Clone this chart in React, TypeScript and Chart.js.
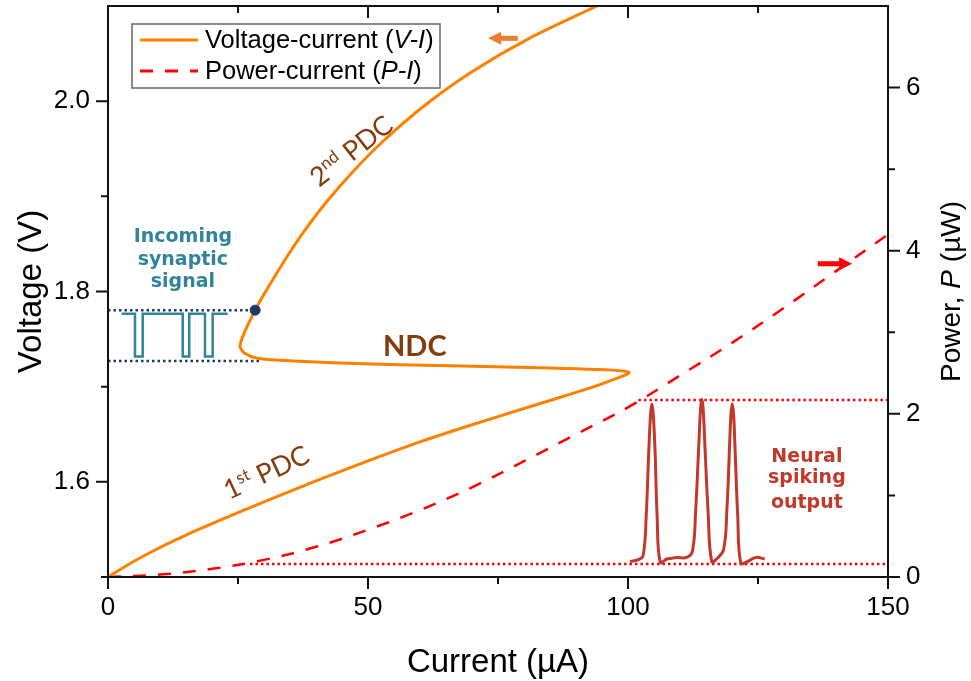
import React, { useEffect, useRef } from 'react';
import { Chart, registerables } from 'chart.js';
Chart.register(...registerables);

// ---------- data ----------
// V-I curve (current in µA, voltage in V), traced along the S-shaped path
const viCurrent = [0, 5, 10, 15, 20, 30, 40, 50, 60, 70, 80, 90, 95, 100.2, 92.7, 83.1, 65.8, 46.0, 33.1, 28.7, 26.3, 25.4, 25.8, 26.9, 28.3, 30, 33.9, 37.5, 42, 47, 53, 61, 70, 81, 94.6];
const viVoltage = [1.5, 1.5165, 1.531, 1.544, 1.556, 1.579, 1.601, 1.622, 1.642, 1.66, 1.677, 1.694, 1.703, 1.715, 1.7183, 1.72, 1.722, 1.7245, 1.7277, 1.7298, 1.735, 1.742, 1.751, 1.765, 1.7804, 1.797, 1.832, 1.8615, 1.894, 1.9254, 1.9584, 1.996, 2.031, 2.066, 2.1016];

// P-I curve (current µA, power µW)
const piCurrent = [0, 10, 20, 30, 40, 50, 60, 70, 80, 90, 100, 110, 120, 130, 140, 150];
const piPower = [0, 0.03, 0.1, 0.21, 0.37, 0.58, 0.82, 1.1, 1.42, 1.75, 2.08, 2.47, 2.87, 3.3, 3.75, 4.2];

// neural spiking output (current µA, power µW)
const spikeCurrent = [100.4, 101.9, 102.9, 103.5, 104.0, 104.35, 104.6, 104.85, 105.2, 105.6, 106.2, 107.5, 109.4, 111.3, 112.4, 113.0, 113.6, 113.95, 114.2, 114.45, 114.8, 115.4, 116.1, 117.2, 118.4, 119.0, 119.5, 119.8, 120.05, 120.3, 120.6, 121.1, 121.7, 123.0, 124.6, 126.3];
const spikePower = [0.19, 0.21, 0.26, 0.75, 1.55, 2.0, 2.12, 2.0, 1.55, 0.75, 0.18, 0.22, 0.24, 0.24, 0.32, 0.8, 1.6, 2.06, 2.18, 2.06, 1.6, 0.8, 0.19, 0.23, 0.34, 0.8, 1.55, 2.0, 2.12, 2.0, 1.55, 0.75, 0.17, 0.19, 0.24, 0.22];

// incoming synaptic signal (square wave)
const synCurrent = [2.63, 5.19, 5.19, 6.67, 6.67, 14.37, 14.37, 15.63, 15.63, 18.65, 18.65, 20.13, 20.13, 23.0];
const synVoltage = [1.7765, 1.7765, 1.7318, 1.7318, 1.7765, 1.7765, 1.7318, 1.7318, 1.7765, 1.7765, 1.7318, 1.7318, 1.7765, 1.7765];

// guide lines
const blueUpperCurrent = [0, 28.3];
const blueUpperVoltage = [1.7804, 1.7804];
const blueLowerCurrent = [0, 29.6];
const blueLowerVoltage = [1.7271, 1.7271];
const redUpperCurrent = [102, 150];
const redUpperPower = [2.17, 2.17];
const redLowerCurrent = [27.3, 150];
const redLowerPower = [0.16, 0.16];
const markerCurrent = [28.3];
const markerVoltage = [1.7804];

// arrows [tail, head]
const orangeArrowCurrent = [78.8, 73.1];
const orangeArrowVoltage = [2.066, 2.066];
const redArrowCurrent = [136.5, 143.1];
const redArrowPower = [3.84, 3.84];

// ticks
const xTicks = [0, 50, 100, 150];
const xTickLabels = ['0', '50', '100', '150'];
const xMinor = [25, 75, 125];
const yTicks = [1.6, 1.8, 2.0];
const yTickLabels = ['1.6', '1.8', '2.0'];
const yMinor = [1.5, 1.7, 1.9];
const y1Ticks = [0, 2, 4, 6];
const y1TickLabels = ['0', '2', '4', '6'];
const y1Minor = [1, 3, 5];

const FONT = "'Liberation Sans', Arial, sans-serif";
const ORANGE = '#FF8000';
const RED = '#FF0000';
const BROWN = '#843C0C';
const TEAL = '#31849B';
const NAVY = '#1F3864';
const SPIKE = '#C0392B';

const pts = (xs: number[], ys: number[]) => xs.map((x, i) => ({ x, y: ys[i] }));

function rich(ctx: CanvasRenderingContext2D, parts: { t: string; font: string; dy?: number }[], cx: number, cy: number, angleDeg: number, color: string) {
  ctx.save();
  ctx.translate(cx, cy);
  ctx.rotate((angleDeg * Math.PI) / 180);
  ctx.fillStyle = color;
  ctx.textBaseline = 'alphabetic';
  ctx.textAlign = 'left';
  let total = 0;
  for (const p of parts) { ctx.font = p.font; total += ctx.measureText(p.t).width; }
  let x = -total / 2;
  for (const p of parts) { ctx.font = p.font; ctx.fillText(p.t, x, p.dy || 0); x += ctx.measureText(p.t).width; }
  ctx.restore();
}

function arrow(ctx: CanvasRenderingContext2D, x0: number, y0: number, x1: number, y1: number, color: string) {
  const ang = Math.atan2(y1 - y0, x1 - x0);
  const headL = 13, headW = 13, shaft = 5;
  ctx.save();
  ctx.translate(x1, y1);
  ctx.rotate(ang);
  const len = Math.hypot(x1 - x0, y1 - y0);
  ctx.fillStyle = color;
  ctx.fillRect(-len, -shaft / 2, len - headL + 1, shaft);
  ctx.beginPath();
  ctx.moveTo(0, 0);
  ctx.lineTo(-headL, -headW / 2);
  ctx.lineTo(-headL, headW / 2);
  ctx.closePath();
  ctx.fill();
  ctx.restore();
}

const annotPlugin = {
  id: 'annot',
  afterDatasetsDraw(chart: any) {
    const ctx: CanvasRenderingContext2D = chart.ctx;
    const x = chart.scales.x, y = chart.scales.y, y1 = chart.scales.y1;
    // arrows
    arrow(ctx, x.getPixelForValue(orangeArrowCurrent[0]), y.getPixelForValue(orangeArrowVoltage[0]), x.getPixelForValue(orangeArrowCurrent[1]), y.getPixelForValue(orangeArrowVoltage[1]), '#ED7D31');
    arrow(ctx, x.getPixelForValue(redArrowCurrent[0]), y1.getPixelForValue(redArrowPower[0]), x.getPixelForValue(redArrowCurrent[1]), y1.getPixelForValue(redArrowPower[1]), RED);

    // annotations
    const lato = (s: number, w = 'normal') => `${w} ${s}px Lato, 'Open Sans', sans-serif`;
    rich(ctx, [{ t: 'NDC', font: lato(29, 'bold') }], x.getPixelForValue(59), y.getPixelForValue(1.7318), 0, BROWN);
    rich(ctx, [{ t: '2', font: lato(27) }, { t: 'nd', font: lato(17), dy: -10 }, { t: ' PDC', font: lato(27) }], x.getPixelForValue(47.9), y.getPixelForValue(1.94), -38, BROWN);
    rich(ctx, [{ t: '1', font: lato(27) }, { t: 'st', font: lato(17), dy: -10 }, { t: ' PDC', font: lato(27) }], x.getPixelForValue(31.2), y.getPixelForValue(1.601), -25, BROWN);
    const dv = "bold 19px 'DejaVu Sans', Verdana, sans-serif";
    rich(ctx, [{ t: 'Incoming', font: dv }], x.getPixelForValue(14.4), y.getPixelForValue(1.852), 0, TEAL);
    rich(ctx, [{ t: 'synaptic', font: dv }], x.getPixelForValue(14.4), y.getPixelForValue(1.828), 0, TEAL);
    rich(ctx, [{ t: 'signal', font: dv }], x.getPixelForValue(14.4), y.getPixelForValue(1.805), 0, TEAL);
    rich(ctx, [{ t: 'Neural', font: dv }], x.getPixelForValue(134.4), y1.getPixelForValue(1.406), 0, SPIKE);
    rich(ctx, [{ t: 'spiking', font: dv }], x.getPixelForValue(134.4), y1.getPixelForValue(1.15), 0, SPIKE);
    rich(ctx, [{ t: 'output', font: dv }], x.getPixelForValue(134.4), y1.getPixelForValue(0.85), 0, SPIKE);
  },
  afterDraw(chart: any) {
    const ctx: CanvasRenderingContext2D = chart.ctx;
    const a = chart.chartArea;
    const x = chart.scales.x, y = chart.scales.y, y1 = chart.scales.y1;
    ctx.save();
    // frame
    ctx.strokeStyle = '#111';
    ctx.lineWidth = 2;
    ctx.strokeRect(a.left, a.top, a.right - a.left, a.bottom - a.top);
    // ticks
    ctx.beginPath();
    const MAJ = 12, MIN = 7;
    for (const v of xTicks) { const px = x.getPixelForValue(v); ctx.moveTo(px, a.bottom); ctx.lineTo(px, a.bottom + MAJ); ctx.moveTo(px, a.top); ctx.lineTo(px, a.top + MAJ); }
    for (const v of xMinor) { const px = x.getPixelForValue(v); ctx.moveTo(px, a.bottom); ctx.lineTo(px, a.bottom + MIN); ctx.moveTo(px, a.top); ctx.lineTo(px, a.top + MIN); }
    for (const v of yTicks) { const py = y.getPixelForValue(v); ctx.moveTo(a.left - MAJ, py); ctx.lineTo(a.left, py); }
    for (const v of yMinor) { const py = y.getPixelForValue(v); ctx.moveTo(a.left - MIN, py); ctx.lineTo(a.left, py); }
    for (const v of y1Ticks) { const py = y1.getPixelForValue(v); ctx.moveTo(a.right, py); ctx.lineTo(a.right + MAJ, py); }
    for (const v of y1Minor) { const py = y1.getPixelForValue(v); ctx.moveTo(a.right, py); ctx.lineTo(a.right + MIN, py); }
    ctx.stroke();

    // axis titles
    const tf = `33px ${FONT}`;
    const rf = `28px ${FONT}`;
    const rfi = `italic 28px ${FONT}`;
    rich(ctx, [{ t: 'Current (µA)', font: tf }], (a.left + a.right) / 2, 672, 0, '#000');
    rich(ctx, [{ t: 'Voltage (V)', font: tf }], 41, (a.top + a.bottom) / 2, -90, '#000');
    rich(ctx, [{ t: 'Power, ', font: rf }, { t: 'P', font: rfi }, { t: ' (µW)', font: rf }], 960, (a.top + a.bottom) / 2, -90, '#000');

    // legend
    const lx = a.left + 24, ly = a.top + 18, lw = 308, lh = 64;
    ctx.fillStyle = '#fff';
    ctx.fillRect(lx, ly, lw, lh);
    ctx.strokeStyle = '#666';
    ctx.lineWidth = 1.5;
    ctx.strokeRect(lx, ly, lw, lh);
    const r1 = ly + 16, r2 = ly + 47;
    ctx.lineWidth = 3;
    ctx.strokeStyle = ORANGE;
    ctx.beginPath(); ctx.moveTo(lx + 8, r1); ctx.lineTo(lx + 66, r1); ctx.stroke();
    ctx.strokeStyle = RED;
    ctx.setLineDash([13, 12]);
    ctx.beginPath(); ctx.moveTo(lx + 8, r2); ctx.lineTo(lx + 66, r2); ctx.stroke();
    ctx.setLineDash([]);
    const lf = `25.5px ${FONT}`, lfi = `italic 25.5px ${FONT}`;
    const leftRich = (parts: { t: string; font: string }[], x0: number, yb: number) => {
      ctx.fillStyle = '#000'; ctx.textBaseline = 'middle'; ctx.textAlign = 'left';
      let xx = x0;
      for (const p of parts) { ctx.font = p.font; ctx.fillText(p.t, xx, yb); xx += ctx.measureText(p.t).width; }
    };
    leftRich([{ t: 'Voltage-current (', font: lf }, { t: 'V-I', font: lfi }, { t: ')', font: lf }], lx + 73, r1 + 1);
    leftRich([{ t: 'Power-current (', font: lf }, { t: 'P-I', font: lfi }, { t: ')', font: lf }], lx + 73, r2 + 1);
    ctx.restore();
  },
};

export default function App() {
  const ref = useRef<HTMLCanvasElement | null>(null);
  useEffect(() => {
    document.body.style.margin = '0';
    const canvas = ref.current!;
    const tickFont = { size: 26, family: FONT };
    const chart = new Chart(canvas, {
      type: 'line',
      data: {
        datasets: [
          { data: pts(markerCurrent, markerVoltage), yAxisID: 'y', showLine: false, pointRadius: 5, pointBackgroundColor: NAVY, pointBorderColor: NAVY, order: 0 },
          { data: pts(viCurrent, viVoltage), yAxisID: 'y', borderColor: ORANGE, borderWidth: 3, pointRadius: 0, tension: 0.25, order: 1 },
          { data: pts(spikeCurrent, spikePower), yAxisID: 'y1', borderColor: SPIKE, borderWidth: 3, pointRadius: 0, tension: 0.4, order: 2 },
          { data: pts(piCurrent, piPower), yAxisID: 'y1', borderColor: RED, borderWidth: 2.5, borderDash: [13, 12], pointRadius: 0, tension: 0.4, order: 3 },
          { data: pts(synCurrent, synVoltage), yAxisID: 'y', borderColor: TEAL, borderWidth: 2.5, pointRadius: 0, tension: 0, order: 4 },
          { data: pts(blueUpperCurrent, blueUpperVoltage), yAxisID: 'y', borderColor: NAVY, borderWidth: 2.5, borderDash: [2.5, 3], pointRadius: 0, order: 5 },
          { data: pts(blueLowerCurrent, blueLowerVoltage), yAxisID: 'y', borderColor: NAVY, borderWidth: 2.5, borderDash: [2.5, 3], pointRadius: 0, order: 5 },
          { data: pts(redUpperCurrent, redUpperPower), yAxisID: 'y1', borderColor: RED, borderWidth: 2.5, borderDash: [2.5, 3], pointRadius: 0, order: 5 },
          { data: pts(redLowerCurrent, redLowerPower), yAxisID: 'y1', borderColor: RED, borderWidth: 2.5, borderDash: [2.5, 3], pointRadius: 0, order: 5 },
        ],
      },
      options: {
        animation: false,
        responsive: false,
        devicePixelRatio: 1,
        layout: { padding: { top: 3, left: 0, right: 0, bottom: 0 } },
        plugins: { legend: { display: false }, tooltip: { enabled: false } },
        scales: {
          x: {
            type: 'linear', min: 0, max: 150,
            grid: { display: false, drawTicks: false }, border: { display: false },
            afterBuildTicks: (s: any) => { s.ticks = xTicks.map((v) => ({ value: v })); },
            afterFit: (s: any) => { s.height = 104; s.paddingLeft = 0; s.paddingRight = 0; },
            ticks: { font: tickFont, color: '#000', padding: 15, maxRotation: 0, autoSkip: false, callback: (_v: any, i: number) => xTickLabels[i] },
          },
          y: {
            type: 'linear', position: 'left', min: 1.5, max: 2.1,
            grid: { display: false, drawTicks: false }, border: { display: false },
            afterBuildTicks: (s: any) => { s.ticks = yTicks.map((v) => ({ value: v })); },
            afterFit: (s: any) => { s.width = 108; s.paddingTop = 0; s.paddingBottom = 0; },
            ticks: { font: tickFont, color: '#000', padding: 18, autoSkip: false, callback: (_v: any, i: number) => yTickLabels[i] },
          },
          y1: {
            type: 'linear', position: 'right', min: 0, max: 7,
            grid: { display: false, drawTicks: false }, border: { display: false },
            afterBuildTicks: (s: any) => { s.ticks = y1Ticks.map((v) => ({ value: v })); },
            afterFit: (s: any) => { s.width = 83; s.paddingTop = 0; s.paddingBottom = 0; },
            ticks: { font: tickFont, color: '#000', padding: 18, autoSkip: false, callback: (_v: any, i: number) => y1TickLabels[i] },
          },
        },
      } as any,
      plugins: [annotPlugin],
    });
    return () => chart.destroy();
  }, []);
  return (
    <div style={{ width: 971, height: 681 }}>
      <canvas ref={ref} width={971} height={681} style={{ display: 'block' }} />
    </div>
  );
}
